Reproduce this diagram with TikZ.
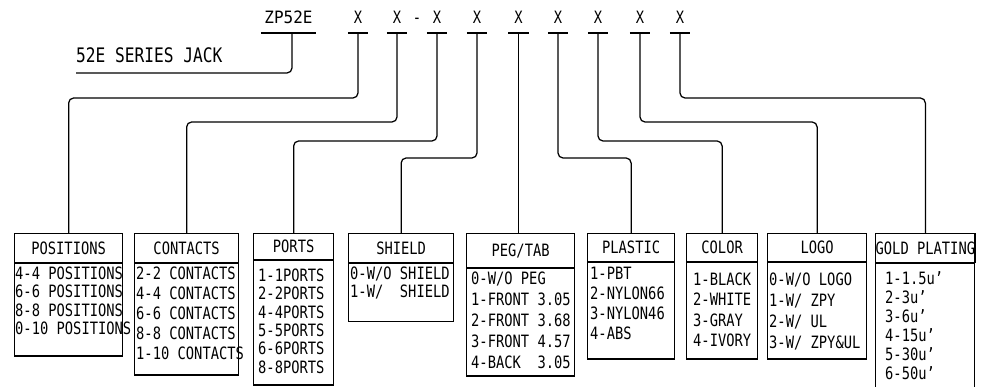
\documentclass[tikz,border=0pt]{standalone}
\usepackage{fontspec}
\usepackage{tikz}
\usetikzlibrary{positioning,calc}
\newfontfamily\cadfont[FakeStretch=0.81]{DejaVu Sans Mono}
\newfontfamily\cadwide[FakeStretch=0.94]{DejaVu Sans Mono}
\tikzset{
  code/.style = {font=\cadfont\fontsize{17}{17}\selectfont, inner sep=0pt,
                 minimum width=20pt, text depth=9pt, anchor=south},
  lead/.style = {draw=black, line width=1.25pt, rounded corners=5pt},
  head/.style = {rectangle, draw=black, line width=1.25pt, anchor=north west,
                 inner sep=0pt, font=\cadfont\fontsize{17}{17}\selectfont},
  body/.style = {rectangle, draw=black, line width=1.25pt, anchor=north west,
                 inner sep=0pt},
  list/.style = {anchor=north west, inner sep=0pt, align=left},
}

\begin{document}
\begin{tikzpicture}[x=1pt,y=-1pt]
  \useasboundingbox (0,0) rectangle (988,387);
  % part number
  \node[code, font=\cadwide\fontsize{17}{17}\selectfont, minimum width=55pt] (zp) at (288.5,33) {ZP52E};
  \draw[lead] (zp.south west) -- (zp.south east);
  \node[code, font=\cadfont\fontsize{20}{20}\selectfont, anchor=south west, text depth=10pt] (jack) at (76,73) {52E SERIES JACK};
  \draw[lead] ([xshift=3.5pt]zp.south) |- (jack.south west);
  \foreach \i/\x in {1/358,2/397,3/437,4/477,5/518.5,6/558,7/598,8/640,9/680}{
    \node[code] (x\i) at (\x,33) {X};
    \draw[lead] (x\i.south west) -- (x\i.south east);
  }
  \node[code, minimum width=0pt] (dash) at ($(x2.south)!0.5!(x3.south)$) {-};
  % option boxes
  \foreach \nm/\xl/\xr/\yd/\yb/\ind/\fy/\ls/\hd/\bd in {
    pos/14/122/262/354/1/273/18.5/POSITIONS/{4-4 POSITIONS\\6-6 POSITIONS\\8-8 POSITIONS\\0-10 POSITIONS},
    con/134/238/262/373/2/273/20/CONTACTS/{2-2 CONTACTS\\4-4 CONTACTS\\6-6 CONTACTS\\8-8 CONTACTS\\1-10 CONTACTS},
    por/253/333/259/383/5/275/18.4/PORTS/{1-1PORTS\\2-2PORTS\\4-4PORTS\\5-5PORTS\\6-6PORTS\\8-8PORTS},
    shi/348/453/262/320/2/273/18/SHIELD/{0-W/O SHIELD\\1-W/~~SHIELD},
    peg/466/574/267/374/5/278/21/{PEG/TAB}/{0-W/O PEG\\1-FRONT 3.05\\2-FRONT 3.68\\3-FRONT 4.57\\4-BACK~~3.05},
    pla/587/674/261/357/3/273/20/PLASTIC/{1-PBT\\2-NYLON66\\3-NYLON46\\4-ABS},
    col/686/757/261/357/7/279/20.5/COLOR/{1-BLACK\\2-WHITE\\3-GRAY\\4-IVORY},
    log/767/866/261/357/2/279/21/LOGO/{0-W/O LOGO\\1-W/ ZPY\\2-W/ UL\\3-W/ ZPY\&UL},
    gol/875/974/262/400/10/278/19/{GOLD PLATING}/{1-1.5u’\\2-3u’\\3-6u’\\4-15u’\\5-30u’\\6-50u’}}{
    \node[head, minimum width=\xr pt-\xl pt, minimum height=\yd pt-233pt] (h\nm) at (\xl,233) {\hd};
    \node[body, minimum width=\xr pt-\xl pt, minimum height=\yb pt-\yd pt] (b\nm) at (h\nm.south west) {};
    \node[list, font=\cadfont\fontsize{17}{\ls}\selectfont] (t\nm) at (\xl+\ind,\fy-6.5) {\bd};
  }
  % leaders from code letters to boxes
  \foreach \i/\nm/\lv in {1/pos/98,2/con/122,3/por/141,4/shi/158,6/pla/158,7/col/141,8/log/122,9/gol/98}{
    \coordinate (l\i) at (0,\lv);
    \draw[lead] (x\i.south) -- (x\i.south |- l\i) -- (h\nm.north |- l\i) -- (h\nm.north);
  }
  \draw[lead] (x5.south) -- (x5.south |- hpeg.north);
\end{tikzpicture}
\end{document}
